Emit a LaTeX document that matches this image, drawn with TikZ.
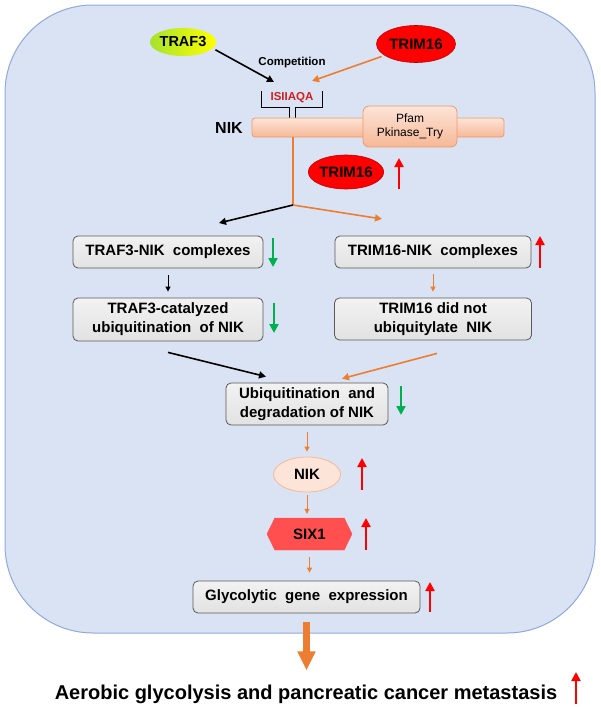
\documentclass[tikz,border=0pt]{standalone}
\usepackage{fontspec}
\setmainfont{Liberation Sans}
\usetikzlibrary{arrows.meta,shapes.geometric,shapes.symbols,calc}
\definecolor{BgBlue}{HTML}{DAE3F3}
\definecolor{BgEdge}{HTML}{8FAADC}
\definecolor{Orng}{HTML}{ED7D31}
\definecolor{Grn}{HTML}{00B050}
\definecolor{BoxTop}{HTML}{F2F2F2}
\definecolor{BoxBot}{HTML}{E2E2E2}
\definecolor{BoxEdge}{HTML}{595959}
\definecolor{Salmon1}{HTML}{FDE4D8}
\definecolor{Salmon2}{HTML}{F6B896}
\definecolor{SalEdge}{HTML}{EE9A6A}
\definecolor{SixRed}{HTML}{FF4F4F}
\definecolor{DarkRed}{HTML}{C00000}
\definecolor{SiteRed}{HTML}{D02020}
\definecolor{Lime}{HTML}{A6E22E}

\begin{document}
\begin{tikzpicture}[x=1pt,y=-1pt,
  bold/.style={font=\fontsize{15}{19}\selectfont\bfseries},
  greybox/.style={bold,draw=BoxEdge,top color=BoxTop,bottom color=BoxBot,rounded corners=5pt,line width=0.8pt,align=center,inner sep=0pt},
  blk/.style={line width=1.6pt,-{Triangle[width=7pt,length=7pt]}},
  org/.style={Orng,line width=1.6pt,-{Triangle[width=7pt,length=7pt]}},
  blksmall/.style={line width=1pt,-{Triangle[width=5pt,length=5pt]}},
  orgsmall/.style={Orng,line width=1pt,-{Triangle[width=5pt,length=5pt]}},
  uparr/.style={red,line width=2.8pt,-{Triangle[width=9pt,length=9pt]}},
  downarr/.style={Grn,line width=2.8pt,-{Triangle[width=9pt,length=9pt]}}]
  \useasboundingbox (0,0) rectangle (600,707);

  % Cell (background)
  \draw[fill=BgBlue,draw=BgEdge,line width=1pt,rounded corners=88pt] (5,5) rectangle (595,633);

  % Competitors on top
  \node[ellipse,draw=none,left color=Lime,right color=yellow,minimum width=66,minimum height=28,inner sep=0pt,
        font=\fontsize{14.5}{16}\selectfont\bfseries] (traf3) at (183,42) {TRAF3};
  \node[ellipse,fill=red,draw=DarkRed,line width=0.6pt,minimum width=79,minimum height=37,inner sep=0pt,
        font=\fontsize{15}{16}\selectfont\bfseries] (trimtop) at (416,44) {TRIM16};
  \node[font=\fontsize{11.5}{13}\selectfont\bfseries] (compet) at (292,63) {Competition};

  % Binding site ISIIAQA
  \node[text=SiteRed,font=\fontsize{11.5}{13}\selectfont\bfseries] (site) at (292,98) {ISIIAQA};
  \draw[line width=1pt] (261,91) -- (261,107) -- (289,107) -- (289,118);
  \draw[line width=1pt] (322,91) -- (322,107) -- (295,107) -- (295,118);

  % NIK protein
  \node[font=\fontsize{16}{18}\selectfont\bfseries] (niklabel) at (229,128) {NIK};
  \node[draw=SalEdge,top color=Salmon1,bottom color=Salmon2,rounded corners=3pt,line width=0.8pt,
        minimum width=252,minimum height=19,inner sep=0pt] (nikbar) at (378,127.5) {};
  \node[draw=SalEdge,top color=Salmon1,bottom color=Salmon2,rounded corners=6pt,line width=0.8pt,
        minimum width=94,minimum height=41,inner sep=0pt,align=center,font=\fontsize{12}{14}\selectfont] (pfam) at (410,126.5) {Pfam\\Pkinase\_Try};

  % TRIM16 up
  \node[ellipse,fill=red,draw=DarkRed,line width=0.6pt,minimum width=72,minimum height=34,inner sep=0pt,
        font=\fontsize{15}{16}\selectfont\bfseries] (trimlow) at (346,172) {TRIM16};
  \draw[uparr] (399,189) -- (399,158);

  % Arrows onto the site and the split
  \coordinate (siteL) at (274,82);
  \coordinate (siteR) at (312,81);
  \coordinate (split) at (293,205);
  \coordinate (toL) at (219,223);
  \coordinate (toR) at (382,219);
  \draw[blk,shorten <=3pt] (traf3.-12) -- (siteL);
  \draw[org,shorten <=3pt] (trimtop.200) -- (siteR);
  \draw[Orng,line width=1.6pt] (nikbar.south -| split) -- (split);
  \draw[blk] (split) -- (toL);
  \draw[org] (split) -- (toR);

  % Left branch
  \node[greybox,minimum width=190,minimum height=32] (trafnik) at (168,252) {TRAF3-NIK\ \ complexes};
  \node[greybox,minimum width=190,minimum height=43] (trafcat) at (168,319.5) {TRAF3-catalyzed\\ubiquitination\ \ of NIK};
  \draw[downarr] (273,238) -- (273,267);
  \draw[downarr] (274,303) -- (274,333);

  % Right branch
  \node[greybox,minimum width=196,minimum height=32] (trimnik) at (433,252) {TRIM16-NIK\ \ complexes};
  \node[greybox,minimum width=197,minimum height=42] (trimnot) at (433,319) {TRIM16 did not\\ubiquitylate\ \ NIK};
  \draw[uparr] (540,268) -- (540,236);

  % Degradation
  \node[greybox,minimum width=162,minimum height=42] (ubiq) at (307,404) {Ubiquitination\ \ and\\degradation of NIK};
  \draw[downarr] (401,386) -- (401,415);

  \draw[blksmall,shorten <=7pt,shorten >=6pt] (trafnik.south) -- (trafcat.north);
  \draw[orgsmall,shorten <=6pt,shorten >=6pt] (trimnik.south) -- (trimnot.north);
  \draw[blk] ($(trafcat.south)+(0,11)$) -- ($(ubiq.north)+(-41,-6)$);
  \draw[org] ($(trimnot.south)+(4,13)$) -- ($(ubiq.north)+(35,-4)$);

  % NIK -> SIX1 -> glycolysis
  \node[ellipse,fill=Salmon1,draw=Salmon2,line width=0.8pt,minimum width=67,minimum height=35,inner sep=0pt,bold] (nik) at (307,474.5) {NIK};
  \node[signal,signal to=west and east,signal pointer angle=128,fill=SixRed,draw=SixRed,
        minimum width=85,minimum height=32,inner sep=0pt,bold] (six1) at (309.5,534) {SIX1};
  \node[greybox,minimum width=227,minimum height=32] (glyc) at (306.5,597) {Glycolytic\ \ gene\ \ expression};
  \draw[uparr] (362,490) -- (362,458);
  \draw[uparr] (366,550) -- (366,518);
  \draw[uparr] (430,612) -- (430,582);

  \draw[orgsmall,shorten <=7pt,shorten >=5pt] (ubiq.south) -- (nik.north);
  \draw[orgsmall,shorten <=3pt,shorten >=4pt] (nik.south) -- (nik.south |- six1.north);
  \draw[orgsmall,shorten <=7pt,shorten >=8pt] (six1.south) -- (six1.south |- glyc.north);

  % Outcome
  \node[anchor=base,inner sep=0pt,font=\fontsize{20}{22}\selectfont\bfseries] (aerobic) at (306,699)
       {Aerobic glycolysis and pancreatic cancer metastasis};
  \draw[Orng,line width=7pt,-{Triangle[width=17pt,length=19pt]},shorten <=9pt,shorten >=14pt]
       (glyc.south) -- (glyc.south |- aerobic.north);
  \draw[uparr] (576,704) -- (576,672);
\end{tikzpicture}
\end{document}
